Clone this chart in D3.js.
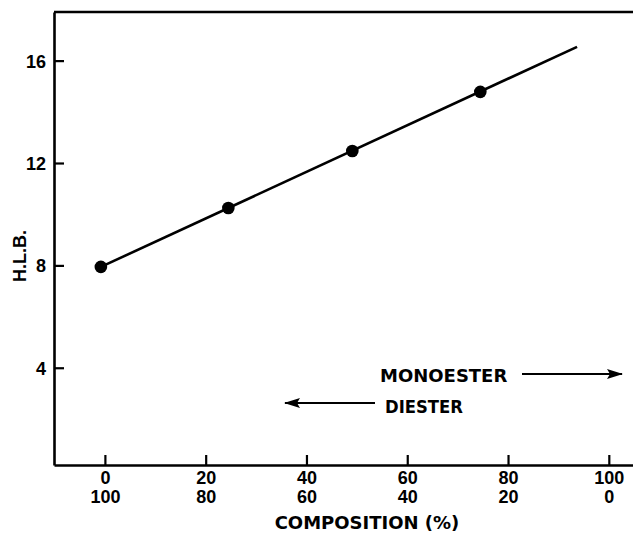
<!DOCTYPE html>
<html>
<head>
<meta charset="utf-8">
<script src="https://cdn.jsdelivr.net/npm/d3@7"></script>
<style>
  html, body { margin: 0; padding: 0; background: #fff; }
  svg { display: block; }
</style>
</head>
<body>
<div id="chart"></div>
<script>
  'use strict';

  // composition (% monoester) vs H.L.B.
  var monoester = [-0.8, 24.5, 49.1, 74.5];
  var hlb = [7.94, 10.24, 12.47, 14.78];

  // fitted straight line, from first point to its drawn end
  var fitX = [-0.8, 93.7];
  var fitY = [7.94, 16.54];

  var xTicks = [0, 20, 40, 60, 80, 100];
  var xTickTop = ['0', '20', '40', '60', '80', '100'];      // monoester %
  var xTickBottom = ['100', '80', '60', '40', '20', '0'];   // diester %
  var yTicks = [4, 8, 12, 16];

  var width = 633, height = 533;
  var numFont = '"Liberation Sans", Arial, sans-serif';
  var wideFont = '"DejaVu Sans", sans-serif';

  var svg = d3.select('#chart').append('svg')
    .attr('width', width)
    .attr('height', height);

  var x = d3.scaleLinear().domain([-10.1, 104.8]).range([54, 633]);
  var y = d3.scaleLinear().domain([0.2, 17.9]).range([465, 12]);

  function numStyle(sel) {
    sel.style('font-family', numFont)
      .style('font-weight', 'bold')
      .style('font-size', '18px')
      .style('fill', '#000');
  }
  function wideStyle(sel) {
    sel.style('font-family', wideFont)
      .style('font-weight', 'bold')
      .style('font-size', '18px')
      .style('fill', '#000');
  }

  ////////////////////////////////////////////////////////////////////////////////////
  // axes

  var xAxis = svg.append('g')
    .attr('transform', 'translate(0,' + y.range()[0] + ')')
    .call(d3.axisBottom(x)
      .tickValues(xTicks)
      .tickSizeInner(-10)
      .tickSizeOuter(0)
      .tickFormat(''));

  xAxis.selectAll('.tick text').remove();
  xAxis.selectAll('.tick').each(function (d, i) {
    var t = d3.select(this).append('text')
      .attr('text-anchor', 'middle')
      .call(numStyle);
    t.append('tspan').attr('x', 0).attr('y', 19).text(xTickTop[i]);
    t.append('tspan').attr('x', 0).attr('y', 38).text(xTickBottom[i]);
  });

  var yAxis = svg.append('g')
    .attr('transform', 'translate(' + x.range()[0] + ',0)')
    .call(d3.axisLeft(y)
      .tickValues(yTicks)
      .tickSizeInner(-10)
      .tickSizeOuter(0)
      .tickPadding(8)
      .tickFormat(d3.format('d')));

  yAxis.selectAll('.tick text')
    .attr('dy', '0.36em')
    .call(numStyle);

  svg.selectAll('.domain').attr('stroke', '#000').attr('stroke-width', 2.6);
  svg.selectAll('.tick line').attr('stroke', '#000').attr('stroke-width', 2.2);

  // top frame line
  svg.append('line')
    .attr('x1', x.range()[0]).attr('x2', x.range()[1])
    .attr('y1', y.range()[1]).attr('y2', y.range()[1])
    .attr('stroke', '#000').attr('stroke-width', 2.6);

  ////////////////////////////////////////////////////////////////////////////////////
  // axis titles

  svg.append('text')
    .attr('x', 367).attr('y', 529)
    .attr('text-anchor', 'middle')
    .call(wideStyle)
    .text('COMPOSITION (%)');

  svg.append('text')
    .attr('transform', 'translate(26,256) rotate(-90)')
    .attr('text-anchor', 'middle')
    .call(numStyle)
    .text('H.L.B.');

  ////////////////////////////////////////////////////////////////////////////////////
  // fitted line and points

  var line = d3.line()
    .x(function (d) { return x(d[0]); })
    .y(function (d) { return y(d[1]); });

  svg.append('path')
    .datum(d3.zip(fitX, fitY))
    .attr('d', line)
    .attr('fill', 'none')
    .attr('stroke', '#000')
    .attr('stroke-width', 2.6);

  svg.selectAll('circle.pt')
    .data(d3.zip(monoester, hlb))
    .enter().append('circle')
    .attr('class', 'pt')
    .attr('cx', function (d) { return x(d[0]); })
    .attr('cy', function (d) { return y(d[1]); })
    .attr('r', 6.3)
    .attr('fill', '#000');

  ////////////////////////////////////////////////////////////////////////////////////
  // direction annotations

  var defs = svg.append('defs');
  defs.append('marker')
    .attr('id', 'head')
    .attr('viewBox', '0 0 16 10')
    .attr('refX', 15).attr('refY', 5)
    .attr('markerWidth', 16).attr('markerHeight', 10)
    .attr('markerUnits', 'userSpaceOnUse')
    .attr('orient', 'auto')
    .append('path')
    .attr('d', 'M0,0 L16,5 L0,10 L3,5 Z')
    .attr('fill', '#000');

  svg.append('text')
    .attr('x', 380).attr('y', 382)
    .call(wideStyle)
    .text('MONOESTER');

  svg.append('line')
    .attr('x1', 522).attr('x2', 622)
    .attr('y1', 374).attr('y2', 374)
    .attr('stroke', '#000').attr('stroke-width', 2)
    .attr('marker-end', 'url(#head)');

  svg.append('text')
    .attr('x', 385).attr('y', 413)
    .attr('textLength', 78)
    .attr('lengthAdjust', 'spacingAndGlyphs')
    .call(wideStyle)
    .text('DIESTER');

  svg.append('line')
    .attr('x1', 375).attr('x2', 285)
    .attr('y1', 403).attr('y2', 403)
    .attr('stroke', '#000').attr('stroke-width', 2)
    .attr('marker-end', 'url(#head)');
</script>
</body>
</html>
